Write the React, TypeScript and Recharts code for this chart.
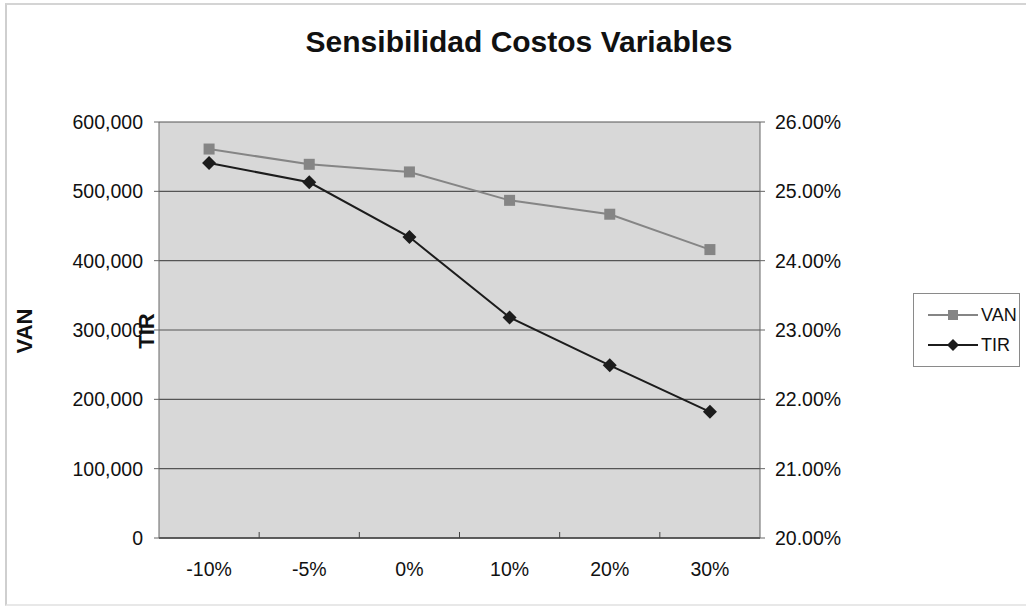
import { LineChart, Line, XAxis, YAxis, CartesianGrid, Legend } from 'recharts'

const categories = ['-10%', '-5%', '0%', '10%', '20%', '30%']
const vanValues = [561000, 539000, 528000, 487000, 467000, 416000]
const tirValues = [25.41, 25.13, 24.34, 23.18, 22.49, 21.82]
const vanTicks = [0, 100000, 200000, 300000, 400000, 500000, 600000]
const tirTicks = [20, 21, 22, 23, 24, 25, 26]
const categoryTicks = categories.map((_, i) => i + 0.5)
const boundaryTicks = [1, 2, 3, 4, 5]

const data = categories.map((cat, i) => ({
  x: i + 0.5,
  cat,
  VAN: vanValues[i],
  TIR: tirValues[i],
}))

const FONT = '"Liberation Sans", Arial, sans-serif'
const VAN_COLOR = '#858585'
const TIR_COLOR = '#1c1c1c'

const SquareDot = (props: any) => {
  const { cx, cy } = props
  if (cx == null || cy == null) return null
  return <rect x={cx - 5.5} y={cy - 5.5} width={11} height={11} fill={VAN_COLOR} />
}

const DiamondDot = (props: any) => {
  const { cx, cy } = props
  if (cx == null || cy == null) return null
  const r = 7
  return (
    <polygon
      points={`${cx},${cy - r} ${cx + r},${cy} ${cx},${cy + r} ${cx - r},${cy}`}
      fill={TIR_COLOR}
    />
  )
}

const EmptyTick = () => <g />

const LegendBox = () => (
  <div
    style={{
      border: '1px solid #8a8a8a',
      width: 107,
      height: 74,
      boxSizing: 'border-box',
      padding: '6px 0 0 14px',
      fontFamily: FONT,
      fontSize: 18,
      color: '#111',
    }}
  >
    <div style={{ display: 'flex', alignItems: 'center', height: 30 }}>
      <svg width={50} height={14}>
        <line x1={0} y1={7} x2={50} y2={7} stroke={VAN_COLOR} strokeWidth={2} />
        <rect x={20} y={2} width={10} height={10} fill={VAN_COLOR} />
      </svg>
      <span style={{ marginLeft: 3 }}>VAN</span>
    </div>
    <div style={{ display: 'flex', alignItems: 'center', height: 30 }}>
      <svg width={50} height={14}>
        <line x1={0} y1={7} x2={50} y2={7} stroke={TIR_COLOR} strokeWidth={2} />
        <polygon points="25,1 31,7 25,13 19,7" fill={TIR_COLOR} />
      </svg>
      <span style={{ marginLeft: 3 }}>TIR</span>
    </div>
  </div>
)

const axisTitle = (left: number, top: number) => ({
  position: 'absolute' as const,
  left,
  top,
  transform: 'translate(-50%, -50%) rotate(-90deg)',
  fontFamily: FONT,
  fontWeight: 'bold' as const,
  fontSize: 22,
  color: '#111',
})

export default function App() {
  const tickStyle = { fontFamily: FONT, fontSize: 19.5, fill: '#111' }
  return (
    <div style={{ position: 'absolute', left: 0, top: 0, width: 1026, height: 606, background: '#fff' }}>
      <div
        style={{
          position: 'absolute',
          left: 5,
          top: 3,
          width: 1030,
          height: 599,
          borderLeft: '2px solid #cfcfcf',
          borderTop: '2px solid #d4d4d4',
          borderBottom: '2px solid #e8e8e8',
        }}
      />
      <div
        style={{
          position: 'absolute',
          left: 0,
          width: 1038,
          top: 25,
          textAlign: 'center',
          fontFamily: FONT,
          fontWeight: 'bold',
          fontSize: 30,
          color: '#111',
        }}
      >
        Sensibilidad Costos Variables
      </div>
      <div style={axisTitle(25, 331)}>VAN</div>
      <div style={axisTitle(147, 331)}>TIR</div>
      <LineChart
        width={1026}
        height={606}
        data={data}
        margin={{ top: 122, left: 59, right: 166, bottom: 28 }}
        style={{ position: 'absolute', left: 0, top: 0 }}
      >
        <CartesianGrid vertical={false} fill="#d8d8d8" stroke="#555" strokeWidth={1.2} yAxisId="van" />
        <XAxis
          xAxisId="bounds"
          type="number"
          dataKey="x"
          domain={[0, 6]}
          ticks={boundaryTicks}
          tick={<EmptyTick />}
          height={1}
          axisLine={{ stroke: '#444', strokeWidth: 1.3 }}
          tickLine={{ stroke: '#444' }}
          tickSize={6}
          mirror
        />
        <XAxis
          xAxisId="cat"
          type="number"
          dataKey="x"
          domain={[0, 6]}
          ticks={categoryTicks}
          tickFormatter={(v: number) => categories[Math.round(v - 0.5)]}
          tickLine={false}
          axisLine={false}
          tick={tickStyle}
          tickSize={6}
          tickMargin={18}
          height={40}
        />
        <YAxis
          yAxisId="van"
          domain={[0, 600000]}
          ticks={vanTicks}
          tickFormatter={(v: number) => v.toLocaleString('en-US')}
          axisLine={{ stroke: '#666' }}
          tickLine={{ stroke: '#666' }}
          tickSize={5}
          tick={tickStyle}
          tickMargin={11}
          width={100}
        />
        <YAxis
          yAxisId="tir"
          orientation="right"
          domain={[20, 26]}
          ticks={tirTicks}
          tickFormatter={(v: number) => `${v.toFixed(2)}%`}
          axisLine={{ stroke: '#666' }}
          tickLine={{ stroke: '#666' }}
          tickSize={5}
          tick={{ ...tickStyle, textAnchor: 'start' }}
          tickMargin={10}
          width={100}
        />
        <Legend
          content={<LegendBox />}
          layout="horizontal"
          align="center"
          verticalAlign="middle"
          wrapperStyle={{ left: 913, top: 293, width: 107 }}
        />
        <Line
          xAxisId="cat"
          yAxisId="van"
          type="linear"
          dataKey="VAN"
          stroke={VAN_COLOR}
          strokeWidth={2}
          dot={<SquareDot />}
          isAnimationActive={false}
        />
        <Line
          xAxisId="cat"
          yAxisId="tir"
          type="linear"
          dataKey="TIR"
          stroke={TIR_COLOR}
          strokeWidth={2}
          dot={<DiamondDot />}
          isAnimationActive={false}
        />
      </LineChart>
    </div>
  )
}
